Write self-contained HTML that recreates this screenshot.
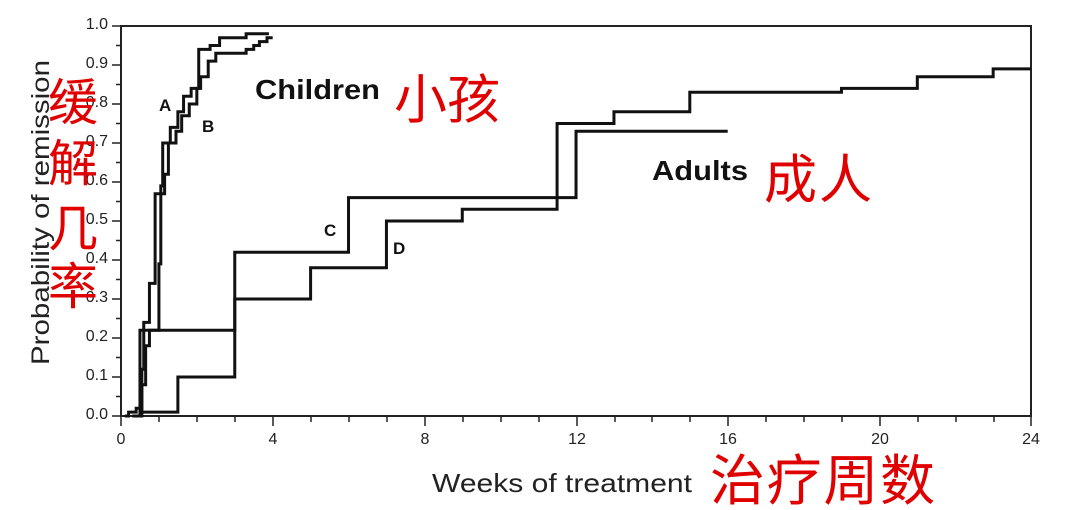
<!DOCTYPE html>
<html><head><meta charset="utf-8"><style>
body{margin:0;background:#fff;width:1080px;height:505px;overflow:hidden}
svg text{font-family:"Liberation Sans","DejaVu Sans",sans-serif}
.cn{font-family:"Noto Serif CJK SC","AR PL UKai CN","WenQuanYi Zen Hei",serif;fill:#e00000}
</style></head><body>
<svg width="1080" height="505" viewBox="0 0 1080 505" xmlns="http://www.w3.org/2000/svg">
<rect x="121" y="26" width="910" height="390" fill="none" stroke="#222" stroke-width="2"/>
<g stroke="#222" stroke-width="1.5">
<path d="M121 416v10M159 416v6M197 416v6M235 416v6M273 416v10M311 416v6M349 416v6M387 416v6M425 416v10M463 416v6M501 416v6M539 416v6M577 416v10M615 416v6M652 416v6M690 416v6M728 416v10M766 416v6M804 416v6M842 416v6M880 416v10M918 416v6M956 416v6M994 416v6M1031 416v10"/>
<path d="M121 416h-9M121 396.5h-5M121 377h-9M121 357.5h-5M121 338h-9M121 318.5h-5M121 299h-9M121 279.5h-5M121 260h-9M121 240.5h-5M121 221h-9M121 201.5h-5M121 182h-9M121 162.5h-5M121 143h-9M121 123.5h-5M121 104h-9M121 84.5h-5M121 65h-9M121 45.5h-5M121 26h-9"/>
</g>
<g font-size="16" fill="#222" text-anchor="end">
<text x="108" y="419">0.0</text><text x="108" y="380">0.1</text><text x="108" y="341">0.2</text><text x="108" y="302">0.3</text><text x="108" y="263">0.4</text><text x="108" y="224">0.5</text><text x="108" y="185">0.6</text><text x="108" y="146">0.7</text><text x="108" y="107">0.8</text><text x="108" y="68">0.9</text><text x="108" y="29">1.0</text>
</g>
<g font-size="16" fill="#222" text-anchor="middle">
<text x="121" y="444">0</text><text x="273" y="444">4</text><text x="425" y="444">8</text><text x="577" y="444">12</text><text x="728" y="444">16</text><text x="880" y="444">20</text><text x="1031" y="444">24</text>
</g>
<text x="-365" y="49" font-size="25" fill="#222" textLength="305" lengthAdjust="spacingAndGlyphs" transform="rotate(-90)">Probability of remission</text>
<text x="432" y="492" font-size="26" fill="#222" textLength="260" lengthAdjust="spacingAndGlyphs">Weeks of treatment</text>
<g fill="none" stroke="#111" stroke-width="3" transform="translate(121,416) scale(37.92,-390)">
<polyline vector-effect="non-scaling-stroke" points="0.5,0 0.5,0.22 3,0.22 3,0.42 6,0.42 6,0.56 11.5,0.56 11.5,0.75 13,0.75 13,0.78 15,0.78 15,0.83 19,0.83 19,0.84 21,0.84 21,0.87 23,0.87 23,0.89 24,0.89"/>
<polyline vector-effect="non-scaling-stroke" points="0.5,0.01 1.5,0.01 1.5,0.1 3,0.1 3,0.3 5,0.3 5,0.38 7,0.38 7,0.5 9,0.5 9,0.53 11.5,0.53 11.5,0.56 12,0.56 12,0.73 16,0.73"/>
<polyline vector-effect="non-scaling-stroke" points="0.1,0 0.2,0 0.2,0.01 0.4,0.01 0.4,0.02 0.55,0.02 0.55,0.12 0.6,0.12 0.6,0.24 0.75,0.24 0.75,0.34 0.9,0.34 0.9,0.57 1.05,0.57 1.05,0.59 1.1,0.59 1.1,0.7 1.3,0.7 1.3,0.74 1.5,0.74 1.5,0.78 1.65,0.78 1.65,0.82 1.85,0.82 1.85,0.84 2.05,0.84 2.05,0.94 2.35,0.94 2.35,0.95 2.6,0.95 2.6,0.97 3.3,0.97 3.3,0.98 3.9,0.98"/>
<polyline vector-effect="non-scaling-stroke" points="0.3,0 0.55,0 0.55,0.08 0.65,0.08 0.65,0.18 0.75,0.18 0.75,0.22 0.85,0.22 0.85,0.22 1.0,0.22 1.0,0.39 1.05,0.39 1.05,0.57 1.15,0.57 1.15,0.62 1.25,0.62 1.25,0.7 1.45,0.7 1.45,0.73 1.6,0.73 1.6,0.77 1.8,0.77 1.8,0.8 2.0,0.8 2.0,0.84 2.1,0.84 2.1,0.87 2.3,0.87 2.3,0.91 2.5,0.91 2.5,0.93 3.3,0.93 3.3,0.94 3.5,0.94 3.5,0.95 3.65,0.95 3.65,0.96 3.85,0.96 3.85,0.97 4.0,0.97"/>
</g>
<g font-weight="bold" fill="#111">
<text x="159" y="111" font-size="17">A</text>
<text x="202" y="132" font-size="17">B</text>
<text x="324" y="236" font-size="17">C</text>
<text x="393" y="254" font-size="17">D</text>
<text x="255" y="99" font-size="28" textLength="125" lengthAdjust="spacingAndGlyphs">Children</text>
<text x="652" y="180" font-size="28" textLength="96" lengthAdjust="spacingAndGlyphs">Adults</text>
</g>
<g class="cn">
<text x="394" y="118" font-size="53" textLength="106">小孩</text>
<text x="764" y="198" font-size="53" textLength="108">成人</text>
<text x="710" y="500" font-size="55" textLength="225">治疗周数</text>
<text x="48" y="120" font-size="50">缓</text>
<text x="48" y="181" font-size="50">解</text>
<text x="48" y="246" font-size="50">几</text>
<text x="48" y="304" font-size="50">率</text>
</g>
</svg>
</body></html>
